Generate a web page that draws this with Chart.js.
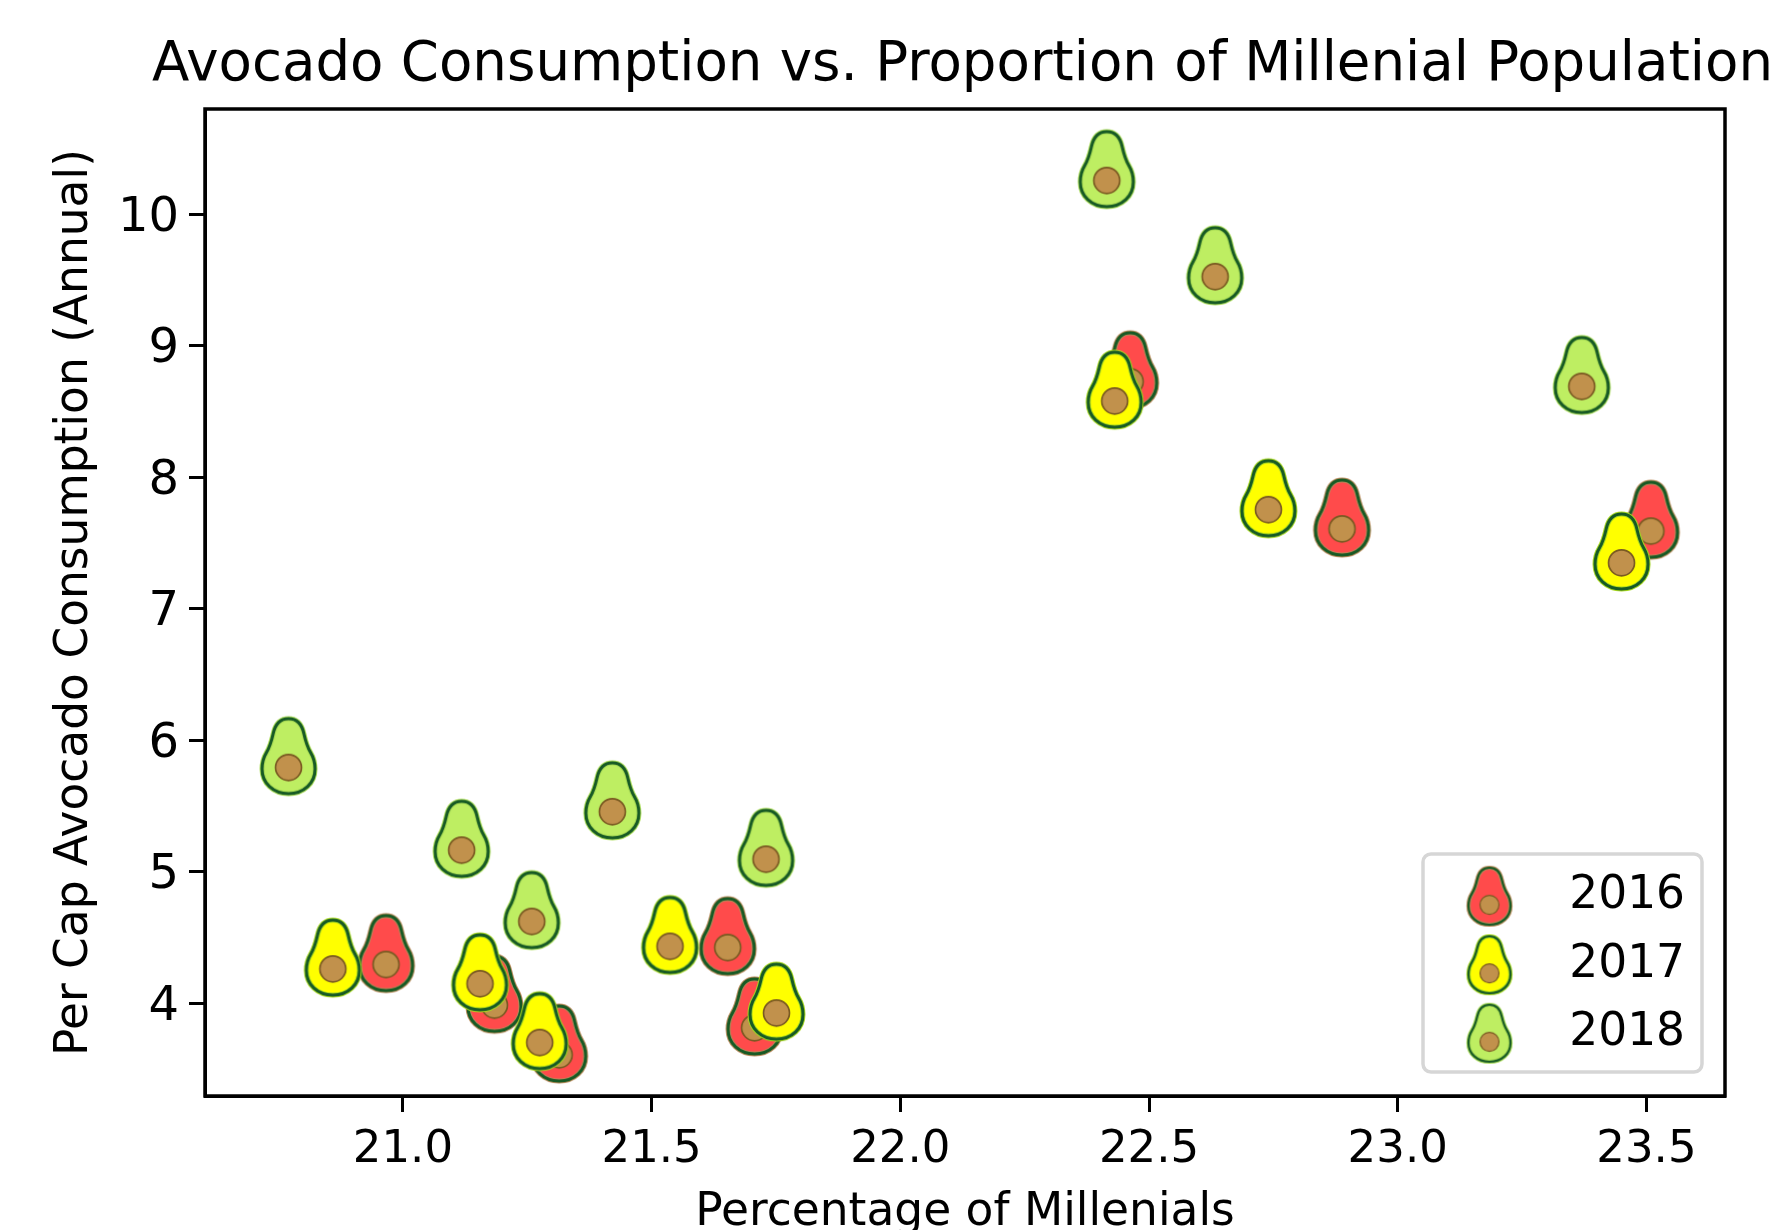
<!DOCTYPE html>
<html><head><meta charset="utf-8">
<style>html,body{margin:0;padding:0;background:#fff}canvas{display:block;filter:blur(.5px)}</style>
<script src="https://cdn.jsdelivr.net/npm/chart.js@4"></script></head>
<body><canvas id="c" width="1774" height="1230"></canvas>
<script>
const chartTitle = "Avocado Consumption vs. Proportion of Millenial Population";
const xTitle = "Percentage of Millenials";
const yTitle = "Per Cap Avocado Consumption (Annual)";
const years = ["2016", "2017", "2018"];
const x2016 = [20.966, 21.184, 21.314, 21.653, 21.707, 22.462, 22.888, 23.509];
const y2016 = [4.383, 4.074, 3.696, 4.512, 3.902, 8.813, 7.694, 7.677];
const x2017 = [20.859, 21.155, 21.275, 21.537, 21.751, 22.431, 22.740, 23.450];
const y2017 = [4.349, 4.237, 3.790, 4.521, 4.014, 8.666, 7.840, 7.436];
const x2018 = [20.770, 21.118, 21.259, 21.421, 21.730, 22.415, 22.633, 23.370];
const y2018 = [5.880, 5.252, 4.710, 5.544, 5.183, 10.342, 9.611, 8.777];
const skinColors = ["#FF4B4B", "#FFFF00", "#BEEE62"];
const rimColors = ["#B98A5A", "#A8D820", "#A9DC55"];
const outline = "#175A25", pitFill = "#C1914C", pitEdge = "#7A5A22";
const FONT = "'DejaVu Sans'";

function avocado(w, h, pitR, lw, skin, rim) {
  const pad = 4, cv = document.createElement("canvas");
  cv.width = w + pad * 2; cv.height = h + pad * 2;
  const c = cv.getContext("2d");
  c.translate(pad + w / 2, pad);
  const X = w / 2;
  c.beginPath(); c.moveTo(0, 0);
  const seq = [[.32,0,.5,.07,.58,.2],[.65,.31,.68,.36,.83,.45],[.95,.52,1,.59,1,.67],[1,.86,.58,1,0,1]];
  seq.forEach(p => c.bezierCurveTo(p[0]*X,p[1]*h,p[2]*X,p[3]*h,p[4]*X,p[5]*h));
  c.bezierCurveTo(-.58*X,h,-X,.86*h,-X,.67*h);
  c.bezierCurveTo(-X,.59*h,-.95*X,.52*h,-.83*X,.45*h);
  c.bezierCurveTo(-.68*X,.36*h,-.65*X,.31*h,-.58*X,.2*h);
  c.bezierCurveTo(-.5*X,.07*h,-.32*X,0,0,0);
  c.closePath();
  c.fillStyle = skin; c.fill();
  c.lineJoin = "round";
  c.strokeStyle = rim; c.lineWidth = lw + 2; c.stroke();
  c.strokeStyle = outline; c.lineWidth = lw; c.stroke();
  c.beginPath(); c.arc(0, .651 * h, pitR, 0, Math.PI * 2);
  c.fillStyle = pitFill; c.fill();
  c.strokeStyle = pitEdge; c.lineWidth = Math.max(1.2, lw * .55); c.stroke();
  return cv;
}
const markers = skinColors.map((s, i) => avocado(53, 75, 13, 3, s, rimColors[i]));
const legendIcons = skinColors.map((s, i) => avocado(42, 57, 9.5, 2.2, s, rimColors[i]));

const toPoints = (xs, ys) => xs.map((x, i) => ({ x, y: ys[i] }));
const seriesPoints = [toPoints(x2016, y2016), toPoints(x2017, y2017), toPoints(x2018, y2018)];

const frame = {
  id: "frame",
  afterLayout(chart) {
    const l = chart.legend;
    l.left = 1409.5; l.top = 850.5; l.width = 300; l.height = 260;
    l.right = l.left + l.width; l.bottom = l.top + l.height;
    const t = chart.titleBlock;
    t.left = 0; t.right = 1773; t.width = 1773;
  },
  beforeDraw(chart) {
    chart.scales.y.getLabelItems().forEach(it => { it.options.translation[1] += 4; });
  },
  afterDraw(chart) {
    const { ctx, chartArea: a } = chart;
    ctx.save();
    ctx.strokeStyle = "#000"; ctx.lineWidth = 3.5;
    ctx.strokeRect(a.left, a.top, a.right - a.left, a.bottom - a.top);
    ctx.strokeStyle = "#D6D6D6"; ctx.lineWidth = 3.5;
    ctx.beginPath(); ctx.roundRect(1423, 854, 279, 218, 8); ctx.stroke();
    ctx.restore();
  }
};

new Chart(document.getElementById("c"), {
  type: "scatter",
  plugins: [frame],
  data: {
    datasets: years.map((y, i) => ({
      label: y, data: seriesPoints[i], pointStyle: markers[i],
      order: years.length - i, pointRadius: 30, backgroundColor: skinColors[i], borderColor: outline
    }))
  },
  options: {
    responsive: false, animation: false,
    layout: { padding: { left: 0, right: 49, top: 0, bottom: 0 } },
    scales: {
      x: {
        type: "linear", min: 20.602, max: 23.658,
        afterFit(s) { s.height = 134; },
        border: { display: true, color: "#000", width: 3 },
        grid: { drawOnChartArea: false, drawTicks: true, tickLength: 16, tickWidth: 3, tickColor: "#000" },
        ticks: { stepSize: 0.5, includeBounds: false, padding: 16, color: "#000", maxRotation: 0,
          font: { family: FONT, size: 45, lineHeight: 1 }, callback: v => v.toFixed(1) },
        title: { display: true, text: xTitle, color: "#000", font: { family: FONT, size: 45.5, lineHeight: 1 }, padding: { top: 10, bottom: -6 } }
      },
      y: {
        type: "linear", min: 3.297, max: 10.799,
        afterFit(s) { s.width = 205; },
        border: { display: true, color: "#000", width: 3 },
        grid: { drawOnChartArea: false, drawTicks: true, tickLength: 16, tickWidth: 3, tickColor: "#000" },
        ticks: { stepSize: 1, includeBounds: false, padding: 10, color: "#000",
          font: { family: FONT, size: 48, lineHeight: 1 }, callback: v => String(v) },
        title: { display: true, text: yTitle, color: "#000", font: { family: FONT, size: 45.5, lineHeight: 1 }, padding: { top: 52, bottom: 0 } }
      }
    },
    plugins: {
      tooltip: { enabled: false },
      title: { display: true, text: chartTitle, align: "end", color: "#000",
        font: { family: FONT, size: 54.6, weight: "normal", lineHeight: 1 }, padding: { top: 39, bottom: 15.4 } },
      legend: {
        display: true, position: "chartArea", align: "start",
        labels: {
          usePointStyle: true, pointStyleWidth: 114, padding: 23, color: "#000",
          font: { family: FONT, size: 45.5, lineHeight: 1 },
          generateLabels: () => years.map((y, i) => ({
            text: y, fillStyle: skinColors[i], strokeStyle: outline, lineWidth: 2,
            pointStyle: legendIcons[i], hidden: false, datasetIndex: i, fontColor: "#000"
          }))
        }
      }
    }
  }
});
</script></body></html>
